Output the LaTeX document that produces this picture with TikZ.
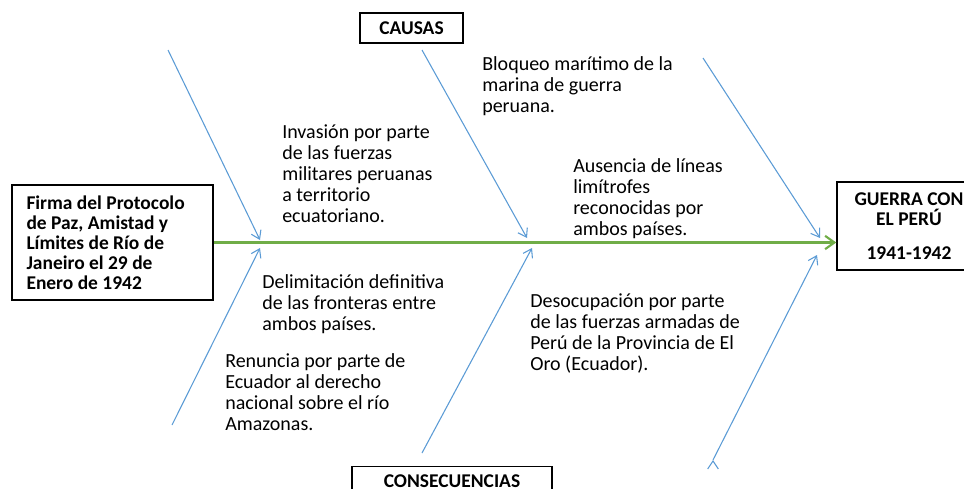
\documentclass[tikz,border=0pt]{standalone}
\usepackage{fontspec}
\setmainfont{Carlito}
\usetikzlibrary{arrows.meta}

\definecolor{boneblue}{RGB}{91,155,213}
\definecolor{spinegreen}{RGB}{112,173,71}

\begin{document}
\begin{tikzpicture}[x=0.75pt, y=-0.75pt, auto,
		main box/.style={draw, line width=1.1pt, font=\fontsize{14.6}{15}\selectfont\bfseries},
		note/.style={anchor=north west, inner sep=0pt, align=left, font=\fontsize{15}{15.8}\selectfont},
		bone/.style={draw=boneblue, line width=0.8pt, -{Straight Barb[length=6pt,width=8pt]}},
		spine/.style={draw=spinegreen, line width=1.6pt, -{Straight Barb[length=7pt,width=10pt]}}]

	\useasboundingbox (0,0) rectangle (964,489);

	\node[main box, minimum width=151pt, minimum height=86pt, text width=129pt, align=flush left, inner xsep=11pt] (1) at (112.5,242.5) {Firma del Protocolo\\de Paz, Amistad y\\Límites de Río de\\Janeiro el 29 de\\Enero de 1942};
	\node[main box, minimum width=108pt, minimum height=66pt, align=center] (2) at (909,226) {GUERRA CON\\EL PERÚ\\[10pt]1941-1942};
	\node[main box, minimum width=77pt, minimum height=22.5pt] (3) at (411.5,28) {CAUSAS};
	\node[main box, minimum width=150pt, minimum height=22pt] (4) at (452,481) {CONSECUENCIAS};

	\node[note] (5) at (482,56) {Bloqueo marítimo de la\\marina de guerra\\peruana.};
	\node[note] (6) at (282,124) {Invasión por parte\\de las fuerzas\\militares peruanas\\a territorio\\ecuatoriano.};
	\node[note] (7) at (573,158) {Ausencia de líneas\\limítrofes\\reconocidas por\\ambos países.};
	\node[note] (8) at (262,274) {Delimitación definitiva\\de las fronteras entre\\ambos países.};
	\node[note] (9) at (530,293) {Desocupación por parte\\de las fuerzas armadas de\\Perú de la Provincia de El\\Oro (Ecuador).};
	\node[note] (10) at (225,353) {Renuncia por parte de\\Ecuador al derecho\\nacional sobre el río\\Amazonas.};

	% espinas
	\coordinate (a1) at (168,50);
	\coordinate (a2) at (422,50);
	\coordinate (a3) at (703,58);
	\coordinate (b1) at (172,425);
	\coordinate (b2) at (422,453);
	\coordinate (b3) at (713,460);
	\coordinate (p1) at (260,240);
	\coordinate (p2) at (527,238);
	\coordinate (p3) at (820,238);
	\coordinate (q1) at (260,248);
	\coordinate (q2) at (532,248);
	\coordinate (q3) at (817,255);

	\path[spine] (1.east) -- (1.east -| 2.west);
	\path[bone]
	(a1) edge (p1)
	(a2) edge (p2)
	(a3) edge (p3)
	(b1) edge (q1)
	(b2) edge (q2)
	(b3) edge (q3);
\end{tikzpicture}
\end{document}
